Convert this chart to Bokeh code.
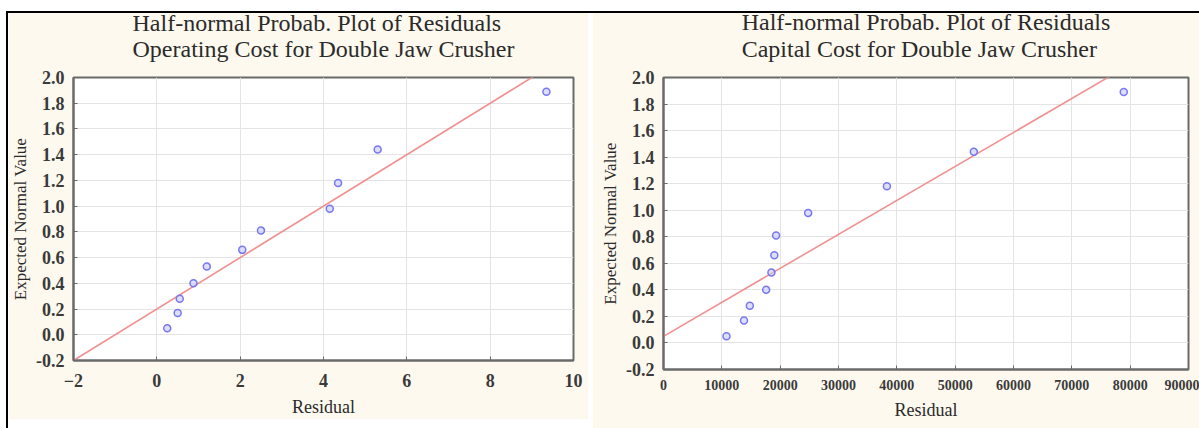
from bokeh.plotting import figure
from bokeh.models import Spacer, SingleIntervalTicker, Range1d, CustomJSTickFormatter
from bokeh.layouts import row, column
from bokeh.embed import file_html
from bokeh.resources import INLINE

# ---------------- data ----------------
expected_normal = [0.05, 0.17, 0.28, 0.40, 0.53, 0.66, 0.81, 0.98, 1.18, 1.44, 1.89]

op_residual = [0.25, 0.50, 0.55, 0.88, 1.20, 2.05, 2.50, 4.15, 4.35, 5.30, 9.35]
op_fit_intercept = 0.20
op_fit_slope = 0.20
op_x_range = (-2, 10)

cap_residual = [10800, 13800, 14800, 17600, 18500, 19000, 19300, 24800, 38300, 53200, 78900]
cap_fit_intercept = 0.05
cap_fit_slope = 2.56e-5
cap_x_range = (0, 90000)

y_range = (-0.2, 2.0)

titles_left = ["Half-normal Probab. Plot of Residuals", "Operating Cost for Double Jaw Crusher"]
titles_right = ["Half-normal Probab. Plot of Residuals", "Capital Cost for Double Jaw Crusher"]
x_label = "Residual"
y_label = "Expected Normal Value"

# ---------------- style ----------------
CREAM = "#fdf9ee"
FONT = "Liberation Serif"
TXT = "#2b2b2b"
TOP_SHIFT = 33


def make_panel(titles, xs, intercept, slope, xr, xstep, width, height,
               mb_left, mb_right, mb_top, mb_bottom, xfont, xstandoff, t_standoff, lh):
    p = figure(width=width, height=height + TOP_SHIFT, output_backend="svg",
               toolbar_location=None,
               x_range=Range1d(*xr), y_range=Range1d(*y_range),
               title="\n".join(titles), margin=(-TOP_SHIFT, 0, 0, 0),
               min_border_left=mb_left, min_border_right=mb_right,
               min_border_top=mb_top + TOP_SHIFT, min_border_bottom=mb_bottom)
    p.title.align = "center"
    p.title.text_font = FONT
    p.title.text_font_size = "24px"
    p.title.text_font_style = "normal"
    p.title.text_color = TXT
    p.title.text_line_height = lh
    p.title.standoff = t_standoff
    p.background_fill_color = "white"
    p.border_fill_color = CREAM
    p.outline_line_color = "#6a6a6a"
    p.outline_line_width = 2

    p.xaxis.ticker = SingleIntervalTicker(interval=xstep)
    p.yaxis.ticker = SingleIntervalTicker(interval=0.2)
    p.yaxis.formatter = CustomJSTickFormatter(code="return tick.toFixed(1);")
    for ax in (p.xaxis[0], p.yaxis[0]):
        ax.axis_line_color = "#6a6a6a"
        ax.axis_line_width = 2
        ax.major_tick_in = 4
        ax.major_tick_out = 0
        ax.major_tick_line_color = "#6a6a6a"
        ax.minor_tick_line_color = None
        ax.major_label_text_font = FONT
        ax.major_label_text_font_style = "bold"
        ax.major_label_text_color = "#3a3a3a"
        ax.axis_label_text_font = FONT
        ax.axis_label_text_font_style = "normal"
        ax.axis_label_text_color = TXT
    p.xaxis.major_label_text_font_size = xfont
    p.yaxis.major_label_text_font_size = "18px"
    p.xaxis.major_label_standoff = xstandoff
    p.yaxis.major_label_standoff = 5
    p.xaxis.axis_label = x_label
    p.yaxis.axis_label = y_label
    p.xaxis.axis_label_text_font_size = "18px"
    p.yaxis.axis_label_text_font_size = "17px"
    p.xaxis.axis_label_standoff = 7
    p.yaxis.axis_label_standoff = 3

    p.grid.grid_line_color = "#e4e4e4"
    p.grid.grid_line_width = 1

    fit_x = list(xr)
    fit_y = [intercept + slope * v for v in fit_x]
    p.line(fit_x, fit_y, line_color="#f09090", line_width=1.6)
    p.scatter(xs, expected_normal, marker="circle", size=7, line_color="#7878f0",
              fill_color="#c8c8ff", fill_alpha=0.6, line_width=1.5)
    return p


p1 = make_panel(titles_left, op_residual, op_fit_intercept, op_fit_slope, op_x_range, 2,
                580, 406, 65, 15, 64, 55, "18px", 9, 30, 1.02)
p2 = make_panel(titles_right, cap_residual, cap_fit_intercept, cap_fit_slope, cap_x_range, 10000,
                607, 415, 71, 11, 61, 52, "14px", 6, 31, 1.05)

white_top = {"background-color": "white", "position": "relative", "z-index": "10"}
black_top = {"background-color": "black", "position": "relative", "z-index": "10"}
black = {"background-color": "black"}
layout = column(
    Spacer(width=1199, height=11, styles=white_top),
    row(
        Spacer(width=6, height=417),
        column(
            Spacer(width=1193, height=2, styles=black_top),
            row(Spacer(width=2, height=415, styles=black), p1, Spacer(width=4, height=415), p2,
                spacing=0),
            spacing=0),
        spacing=0),
    spacing=0)

open("out.html", "w").write(file_html(layout, INLINE))
